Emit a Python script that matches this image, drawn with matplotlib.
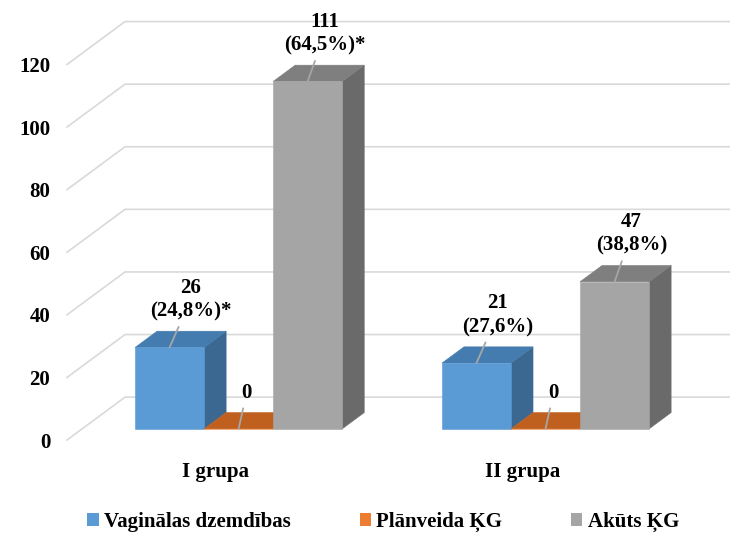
import numpy as np
import matplotlib.pyplot as plt
from matplotlib.patches import Polygon, Patch
from matplotlib import transforms

plt.rcParams["font.family"] = ["Liberation Serif", "DejaVu Serif"]
plt.rcParams["font.weight"] = "bold"

# data
groups = ["I grupa", "II grupa"]
series = ["Vaginālas dzemdības", "Plānveida ĶG", "Akūts ĶG"]
counts_i = [26, 0, 111]
counts_ii = [21, 0, 47]
pct_i = ["(24,8%)*", "", "(64,5%)*"]
pct_ii = ["(27,6%)", "", "(38,8%)"]
yticks = [0, 20, 40, 60, 80, 100, 120]

# face colours per series: front, top, side
front_col = ["#5B9BD5", "#ED7D31", "#A5A5A5"]
top_col = ["#457CAF", "#C0601F", "#7F7F7F"]
side_col = ["#3B6890", "#A9531A", "#6A6A6A"]
legend_col = ["#5B9BD5", "#ED7D31", "#A5A5A5"]
grid_col = "#D9D9D9"
leader_col = "#A6A6A6"
FS = 15

# oblique depth: full wall depth in data units, bar front/back depth
DX, DY = 0.189, 13.7
D0, D1 = 0.26, 0.64
BAR_W = 0.225
XMIN, XMAX = -0.51, 1.5

fig = plt.figure(figsize=(7.3, 5.37), dpi=100)
ax = fig.add_axes([0.0918, 0.1806, 0.845, 0.6994])
ax.set_xlim(XMIN, XMAX)
ax.set_ylim(0, 120)
for s in ax.spines.values():
    s.set_visible(False)

# side wall and back wall gridlines
for v in yticks:
    ax.plot([XMIN, XMIN + DX, XMAX + 2 * DX], [v, v + DY, v + DY],
            color=grid_col, lw=1.2, clip_on=False, zorder=1)

fx, fy = D0 * DX, D0 * DY
bx, by = D1 * DX, D1 * DY

all_counts = [counts_i, counts_ii]
all_pct = [pct_i, pct_ii]
label_dx = [21, 8, 17]

for g in range(len(groups)):
    for i in range(len(series)):
        h = all_counts[g][i]
        left = g + (i - 1.5) * BAR_W
        right = left + BAR_W
        front = [(left + fx, fy), (right + fx, fy), (right + fx, h + fy), (left + fx, h + fy)]
        top = [(left + fx, h + fy), (right + fx, h + fy), (right + bx, h + by), (left + bx, h + by)]
        side = [(right + fx, fy), (right + bx, by), (right + bx, h + by), (right + fx, h + fy)]
        z = 2 + g * 3 + i
        for pts, col in [(side, side_col[i]), (top, top_col[i]), (front, front_col[i])]:
            ax.add_patch(Polygon(pts, closed=True, facecolor=col, edgecolor=col,
                                 lw=0.4, clip_on=False, zorder=z))

        text = str(h) if not all_pct[g][i] else f"{h}\n{all_pct[g][i]}"
        ax.annotate(text, xy=((left + right) / 2 + fx, h + fy),
                    xytext=(label_dx[i], 26), textcoords="offset pixels",
                    ha="center", va="bottom", fontsize=FS, fontweight="bold",
                    linespacing=1.25, annotation_clip=False, zorder=20,
                    arrowprops=dict(arrowstyle="-", color=leader_col, lw=1.3,
                                    shrinkA=2, shrinkB=0))

ax.set_yticks(yticks)
ax.set_yticklabels([str(v) for v in yticks], fontsize=FS, fontweight="bold")
ax.set_xticks(range(len(groups)))
ax.set_xticklabels(groups, fontsize=FS, fontweight="bold")
ax.tick_params(axis="y", length=0, pad=12)
ax.tick_params(axis="x", length=0, pad=16)
shift = transforms.ScaledTranslation(-8 / 100, 0, fig.dpi_scale_trans)
for lab in ax.get_xticklabels():
    lab.set_transform(lab.get_transform() + shift)

handles = [Patch(facecolor=c, edgecolor="none") for c in legend_col]
fig.legend(handles, series, loc="center", bbox_to_anchor=(0.525, 0.028),
           ncol=3, frameon=False, handlelength=0.55,
           handleheight=0.55, handletextpad=0.25, columnspacing=3.3,
           prop={"weight": "bold", "size": FS})

fig.savefig("out.png", dpi=100)
